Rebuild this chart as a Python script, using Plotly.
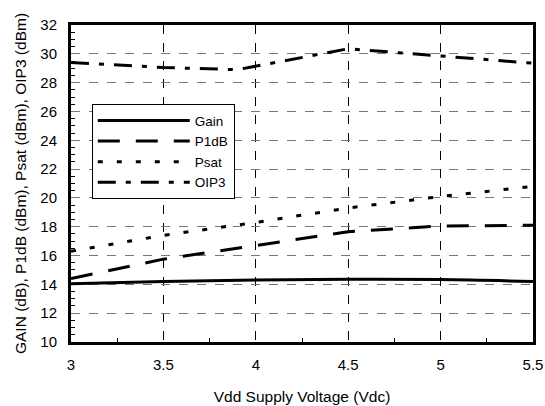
import plotly.graph_objects as go

vdd = [3.0, 3.5, 4.0, 4.5, 5.0, 5.5]
gain = [14.05, 14.2, 14.3, 14.35, 14.33, 14.2]
p1db = [14.4, 15.75, 16.7, 17.65, 18.05, 18.1]
psat = [16.3, 17.4, 18.3, 19.3, 20.1, 20.8]
oip3_v = [3.0, 3.5, 3.9, 4.0, 4.5, 5.0, 5.5]
oip3 = [29.4, 29.05, 28.9, 29.15, 30.35, 29.85, 29.35]

font = "Liberation Sans, Arial, Helvetica, sans-serif"
fig = go.Figure()
fig.add_trace(go.Scatter(x=vdd, y=gain, name="Gain", mode="lines",
                         line=dict(color="black", width=3, shape="spline")))
fig.add_trace(go.Scatter(x=vdd, y=p1db, name="P1dB", mode="lines",
                         line=dict(color="black", width=3, dash="22px,16px")))
fig.add_trace(go.Scatter(x=vdd, y=psat, name="Psat", mode="lines",
                         line=dict(color="black", width=3, dash="5px,14px")))
fig.add_trace(go.Scatter(x=oip3_v, y=oip3, name="OIP3", mode="lines",
                         line=dict(color="black", width=3, dash="18px,10px,5px,10px")))

fig.update_layout(
    width=545, height=406,
    margin=dict(l=71, r=12, t=25, b=64),
    paper_bgcolor="white", plot_bgcolor="white",
    font=dict(family=font, size=15, color="black"),
    showlegend=True,
    legend=dict(x=0.045, y=0.75, xanchor="left", yanchor="top",
                bgcolor="white", bordercolor="black", borderwidth=1,
                font=dict(size=13.5), itemwidth=92, tracegroupgap=0),
)
fig.update_xaxes(range=[3, 5.5], dtick=0.5, tick0=3,
                 showgrid=True, gridcolor="black", griddash="dash", gridwidth=1,
                 showline=True, linecolor="black", linewidth=3, mirror=True,
                 ticks="", zeroline=False, ticklabelstandoff=7,
                 ticklabeloverflow="allow", automargin=False,
                 tickfont=dict(size=15),
                 minor=dict(dtick=0.25, ticks="inside", ticklen=4, tickcolor="black", showgrid=False),
                 title=dict(text="Vdd Supply Voltage (Vdc)", font=dict(size=15.5), standoff=20))
fig.update_yaxes(range=[10, 32], dtick=2, tick0=10,
                 showgrid=True, gridcolor="#777777", griddash="dash", gridwidth=1,
                 showline=True, linecolor="black", linewidth=3, mirror=True,
                 ticks="", zeroline=False, ticklabelstandoff=8,
                 ticklabeloverflow="allow", automargin=False,
                 tickfont=dict(size=15),
                 minor=dict(dtick=0.5, ticks="inside", ticklen=4, tickcolor="black", showgrid=False),
                 title=dict(text="GAIN (dB), P1dB (dBm), Psat (dBm), OIP3 (dBm)", font=dict(size=15.5), standoff=10))

fig.write_html("out.html")
